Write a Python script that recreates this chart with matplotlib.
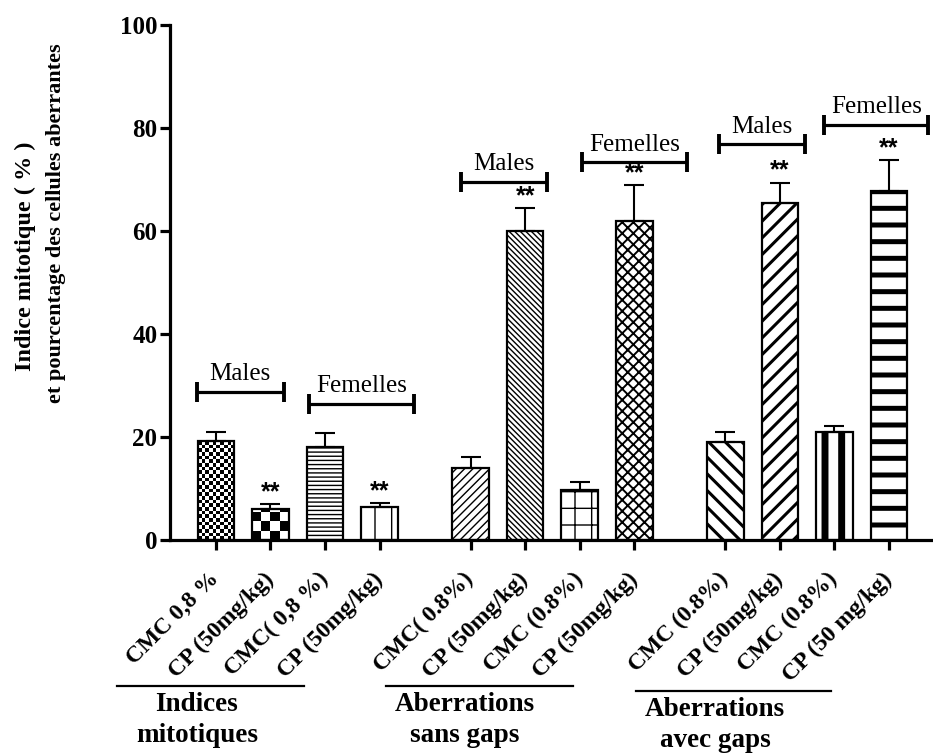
"""Indice mitotique et aberrations chromosomiques (CMC vs CP)."""

import numpy as np
import matplotlib
matplotlib.use("Agg")
from matplotlib import pyplot as plt
from matplotlib.lines import Line2D

#-----------------------------------------------------------------------------
# Data
#-----------------------------------------------------------------------------

labels = ['CMC 0,8 %', 'CP (50mg/kg)', 'CMC( 0,8 %)', 'CP (50mg/kg)',
          'CMC( 0.8%)', 'CP (50mg/kg)', 'CMC (0.8%)', 'CP (50mg/kg)',
          'CMC (0.8%)', 'CP (50mg/kg)', 'CMC (0.8%)', 'CP (50 mg/kg)']
means = [19.2, 6.1, 18.0, 6.5, 13.9, 60.0, 9.8, 62.0, 19.0, 65.4, 21.0, 67.8]
sems = [1.8, 0.9, 2.8, 0.7, 2.2, 4.5, 1.4, 6.9, 1.9, 4.0, 1.1, 6.0]
signif = ['', '**', '', '**', '', '**', '', '**', '', '**', '', '**']
group_of_bar = [0, 0, 0, 0, 1, 1, 1, 1, 2, 2, 2, 2]

group_names = ['Indices\nmitotiques', 'Aberrations\nsans gaps',
               'Aberrations\navec gaps']
sex_labels = ['Males', 'Femelles', 'Males', 'Femelles', 'Males', 'Femelles']
sex_y = [28.7, 26.5, 69.6, 73.3, 76.8, 80.6]
sex_span = [(-0.35, 1.24), (1.71, 3.63), (4.49, 6.07),
            (6.71, 8.63), (9.22, 10.79), (11.15, 13.05)]

# fill style per bar: (kind, hatch or checker cells, hatch linewidth)
fills = [('check', 10, None), ('check', 4, None), ('hatch', '----', 1.0),
         ('hatch', '|', 1.0), ('hatch', '////', 1.0),
         ('hatch', '\\' * 6, 1.0), ('hatch', '+', 1.0), ('hatch', 'xxx', 1.4),
         ('hatch', '\\\\', 2.2), ('hatch', '//', 2.2), ('hatch', '|', 5.0),
         ('hatch', '-', 3.6)]

#-----------------------------------------------------------------------------
# Helpers
#-----------------------------------------------------------------------------

SERIF = 'Liberation Serif'


def checker_fill(ax, rect, ncells, px_per_x, px_per_y):
    """Fill a bar rectangle with a black/white checkerboard."""
    x0, w, h = rect.get_x(), rect.get_width(), rect.get_height()
    cw = w / ncells
    ch = cw * px_per_x / px_per_y
    ny = int(np.ceil(h / ch))
    img = np.add.outer(np.arange(ny), np.arange(ncells)) % 2
    im = ax.imshow(img, cmap='gray', extent=(x0, x0 + w, 0, ny * ch),
                   origin='lower', aspect='auto', interpolation='nearest',
                   zorder=1)
    im.set_clip_path(rect)


#-----------------------------------------------------------------------------
# Main script
#-----------------------------------------------------------------------------

if __name__ == '__main__':

    fig = plt.figure(figsize=(9.33, 7.53), dpi=100)
    ax = fig.add_axes([0.1822, 0.2829, 0.8167, 0.6839])

    x = np.arange(len(means)) + np.array(group_of_bar) * (2 / 3)
    width = 0.67
    xlim = (-0.84, 13.12)
    ylim = (0, 100)
    px_per_x = 762 / (xlim[1] - xlim[0])
    px_per_y = 515 / (ylim[1] - ylim[0])

    for i in range(len(means)):
        kind, pat, hlw = fills[i]
        if kind == 'check':
            b = ax.bar(x[i], means[i], width, facecolor='none',
                       edgecolor='black', linewidth=1.6, zorder=2)[0]
            checker_fill(ax, b, pat, px_per_x, px_per_y)
        else:
            b = ax.bar(x[i], means[i], width, facecolor='white',
                       edgecolor='black', linewidth=1.6, hatch=pat,
                       zorder=2)[0]
            if hasattr(b, 'set_hatch_linewidth'):
                b.set_hatch_linewidth(hlw)

    # upper error bars only
    ax.errorbar(x, means, yerr=[np.zeros(len(sems)), sems], fmt='none',
                ecolor='black', elinewidth=1.5, capsize=7, capthick=1.5,
                zorder=3)

    for xi, m, s, sig in zip(x, means, sems, signif):
        if sig:
            ax.annotate(sig, (xi, m + s), xytext=(0, 0),
                        textcoords='offset points', ha='center', va='bottom',
                        fontsize=18, fontweight='bold',
                        family='Liberation Sans')

    # Males / Femelles brackets
    for lab, (x0, x1), yb in zip(sex_labels, sex_span, sex_y):
        ax.plot([x0, x1], [yb, yb], color='black', lw=2.3,
                solid_capstyle='butt', clip_on=False, zorder=4)
        ax.plot([x0, x1], [yb, yb], ls='none', marker='|', ms=15,
                mew=2.8, color='black', clip_on=False, zorder=4)
        ax.annotate(lab, ((x0 + x1) / 2, yb), xytext=(0, 5),
                    textcoords='offset points', ha='center', va='bottom',
                    fontsize=18, family=SERIF, annotation_clip=False)

    ax.set_xlim(*xlim)
    ax.set_ylim(*ylim)
    ax.set_yticks(np.arange(0, 101, 20))
    ax.set_xticks(x)
    ax.set_xticklabels(labels, rotation=45, ha='right', va='center',
                       rotation_mode='anchor', fontsize=17,
                       fontweight='bold', family=SERIF)
    for t in ax.get_yticklabels():
        t.set_fontsize(18)
        t.set_fontweight('bold')
        t.set_family(SERIF)

    for side in ['top', 'right']:
        ax.spines[side].set_visible(False)
    for side in ['left', 'bottom']:
        ax.spines[side].set_linewidth(2.3)
    ax.tick_params(axis='both', direction='out', length=7, width=2.3)
    ax.tick_params(axis='y', pad=2)
    ax.tick_params(axis='x', pad=19)

    # y label (two lines)
    fig.text(25 / 933, 1 - 256 / 753, 'Indice mitotique ( % )', rotation=90,
             ha='center', va='center', fontsize=17.5, fontweight='bold',
             family=SERIF)
    fig.text(56 / 933, 1 - 223 / 753,
             'et pourcentage des cellules aberrantes', rotation=90,
             ha='center', va='center', fontsize=16, fontweight='bold',
             family=SERIF)

    # group labels under the tick labels
    group_lines = [(117, 304, 686), (386, 573, 686), (636, 831, 691)]
    group_text = [(197, 720), (465, 720), (715, 725)]
    for name, (gx0, gx1, gy), (tx, ty) in zip(group_names, group_lines,
                                               group_text):
        fig.add_artist(Line2D([gx0 / 933, gx1 / 933],
                              [1 - gy / 753, 1 - gy / 753],
                              color='black', lw=1.6))
        fig.text(tx / 933, 1 - ty / 753, name, ha='center', va='center',
                 fontsize=19.5, fontweight='bold', family=SERIF,
                 linespacing=1.3)

    fig.savefig('out.png', dpi=100)
